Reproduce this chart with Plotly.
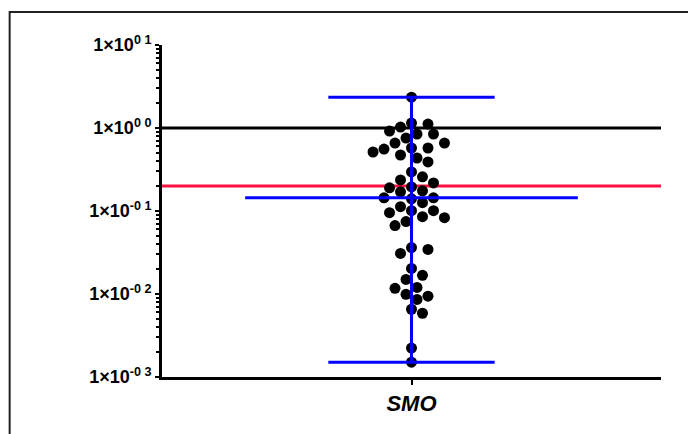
import math
import plotly.graph_objects as go

# ---- data ----
categories = ["SMO"]
smo_values = [
    2.35, 1.145, 1.114, 1.025, 0.918, 0.845, 0.845, 0.757, 0.659, 0.659,
    0.574, 0.574, 0.558, 0.514, 0.473, 0.435, 0.390, 0.296, 0.258, 0.237,
    0.218, 0.195, 0.190, 0.175, 0.170, 0.144, 0.144, 0.140, 0.126, 0.1127,
    0.1009, 0.1009, 0.0955, 0.0855, 0.0832, 0.0745, 0.0667, 0.0363, 0.0344, 0.0308,
    0.0203, 0.0168, 0.0150, 0.0120, 0.0117, 0.0099, 0.0094, 0.0086, 0.00655, 0.00586,
    0.00223, 0.00151,
]
reference_line = 1.0
threshold_line = 0.2
y_tick_values = [0.001, 0.01, 0.1, 1, 10]
y_tick_exponents = ["-0 3", "-0 2", "-0 1", "0 0", "0 1"]
y_tick_labels = ["1×10<sup>%s</sup>" % e for e in y_tick_exponents]

# ---- layout geometry ----
W, H = 688, 434
ML, MR, MT, MB = 161.5, 27, 44.5, 57
plot_w = W - ML - MR
plot_h = H - MT - MB
px_per_decade = plot_h / 4.0
px_per_xunit = plot_w / 1.0
dot = 11


def swarm(values):
    ys = [math.log10(v) * px_per_decade for v in values]
    order = sorted(range(len(values)), key=lambda i: -values[i])
    placed = []
    xs = [0.0] * len(values)
    ks = [0]
    for k in range(1, 30):
        ks += [k, -k]
    for i in order:
        y = ys[i]
        for k in ks:
            x = k * dot / 2.0
            ok = True
            for (px, py) in placed:
                if (x - px) ** 2 + (y - py) ** 2 < (dot * 1.02) ** 2:
                    ok = False
                    break
            if ok:
                xs[i] = x
                placed.append((x, y))
                break
    return [x / px_per_xunit for x in xs]


xoff = swarm(smo_values)
srt = sorted(smo_values)
n = len(srt)
median = (srt[n // 2 - 1] + srt[n // 2]) / 2 if n % 2 == 0 else srt[n // 2]
vmin, vmax = min(smo_values), max(smo_values)

fig = go.Figure()
fig.add_trace(go.Scatter(x=[-0.5, 0.5], y=[reference_line] * 2, mode="lines",
                         line=dict(color="black", width=3), hoverinfo="skip"))
fig.add_trace(go.Scatter(x=[-0.5, 0.5], y=[threshold_line] * 2, mode="lines",
                         line=dict(color="#FF1040", width=3), hoverinfo="skip"))
fig.add_trace(go.Scatter(x=xoff, y=smo_values, mode="markers",
                         marker=dict(color="black", size=dot, line=dict(width=0))))
cap, mw = 1 / 6, 1 / 3
fig.add_trace(go.Scatter(
    x=[-mw, mw, None, 0, 0, None, -cap, cap, None, -cap, cap],
    y=[median, median, None, vmin, vmax, None, vmax, vmax, None, vmin, vmin],
    mode="lines", line=dict(color="#0000FF", width=3), hoverinfo="skip"))

minor_vals = [k * 10 ** e for e in range(-3, 1) for k in range(2, 10)]

fig.update_layout(
    width=W, height=H, showlegend=False,
    margin=dict(l=ML, r=MR, t=MT, b=MB, pad=0),
    paper_bgcolor="white", plot_bgcolor="white",
    font=dict(family="Liberation Sans, Arial", color="black"),
    xaxis=dict(range=[-0.5, 0.5], tickmode="array", tickvals=[0], ticktext=categories,
               showgrid=False, zeroline=False, showline=True, linecolor="black",
               linewidth=3, ticks="outside", ticklen=5, tickwidth=2, tickcolor="black",
               tickfont=dict(size=22, family="Liberation Sans, Arial", weight="bold",
                             style="italic")),
    yaxis=dict(type="log", range=[-3, 1], tickmode="array", tickvals=y_tick_values,
               ticktext=y_tick_labels, showgrid=False, zeroline=False, showline=True,
               linecolor="black", linewidth=3, ticks="outside", ticklen=4, tickwidth=2,
               tickcolor="black",
               tickfont=dict(size=18, family="Liberation Sans, Arial", weight="bold"),
               minor=dict(tickmode="array", tickvals=minor_vals, ticks="outside",
                          ticklen=3, tickwidth=2, tickcolor="black", showgrid=False)),
    shapes=[
        dict(type="line", xref="paper", yref="paper",
             x0=(9 - ML) / plot_w, x1=(W + 10 - ML) / plot_w,
             y0=(H - MB - 11.5) / plot_h, y1=(H - MB - 11.5) / plot_h,
             line=dict(color="#222", width=2)),
        dict(type="line", xref="paper", yref="paper",
             x0=(9 - ML) / plot_w, x1=(9 - ML) / plot_w,
             y0=(H - MB - 10.5) / plot_h, y1=(H - MB - H - 10) / plot_h,
             line=dict(color="#222", width=2)),
    ],
)

fig.write_html("out.html")
